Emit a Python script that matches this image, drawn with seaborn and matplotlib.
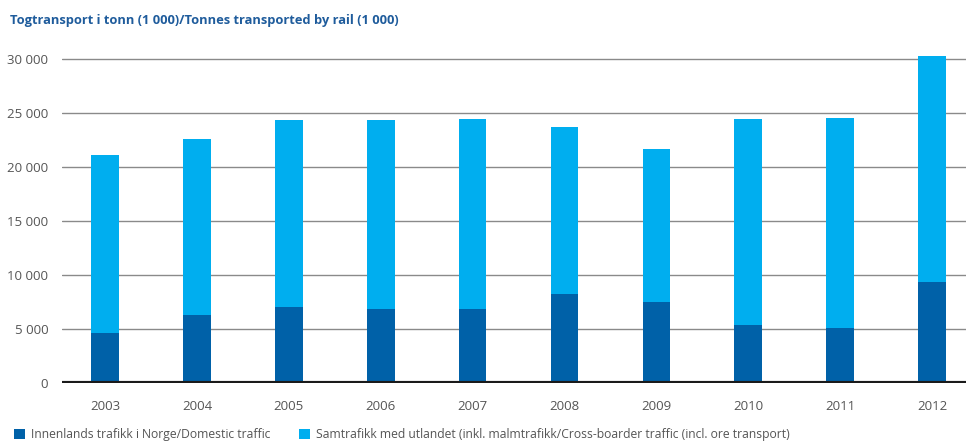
import matplotlib
matplotlib.use("Agg")
import matplotlib.pyplot as plt
import seaborn as sns
import pandas as pd
from matplotlib.patches import Patch

years = ["2003", "2004", "2005", "2006", "2007", "2008", "2009", "2010", "2011", "2012"]
domestic = [4680, 6310, 7080, 6900, 6840, 8230, 7550, 5350, 5100, 9380]
crossborder = [16490, 16340, 17270, 17450, 17640, 15470, 14110, 19160, 19470, 20950]
yticks = [0, 5000, 10000, 15000, 20000, 25000, 30000]
ytick_labels = ["0", "5 000", "10 000", "15 000", "20 000", "25 000", "30 000"]
title = "Togtransport i tonn (1 000)/Tonnes transported by rail (1 000)"
legend_labels = ["Innenlands trafikk i Norge/Domestic traffic",
                 "Samtrafikk med utlandet (inkl. malmtrafikk/Cross-boarder traffic (incl. ore transport)"]

DARK = "#0061a8"
LIGHT = "#00aeef"
TXT = "#555555"

sns.set_theme(style="white")
plt.rcParams["font.family"] = ["Open Sans", "DejaVu Sans"]

df = pd.DataFrame({"year": years, "domestic": domestic, "cross": crossborder})
df["total"] = df["domestic"] + df["cross"]

fig = plt.figure(figsize=(9.66, 4.43), dpi=100)
ax = fig.add_axes([0.0642, 0.1354, 0.9358, 0.767])

for y in yticks[1:]:
    ax.axhline(y, color="#8a8a8a", lw=1.0, zorder=0)

sns.barplot(data=df, x="year", y="total", color=LIGHT, width=0.30, saturation=1,
            linewidth=0, ax=ax, zorder=2)
sns.barplot(data=df, x="year", y="domestic", color=DARK, width=0.30, saturation=1,
            linewidth=0, ax=ax, zorder=3)
ax.axhline(0, color="#1a1a1a", lw=3, zorder=4)

ax.set_ylim(0, 31500)
ax.set_xlim(-0.47, 9.37)
ax.set_yticks(yticks)
ax.set_yticklabels(ytick_labels)
ax.set_xlabel("")
ax.set_ylabel("")
ax.tick_params(axis="both", length=0, colors=TXT, labelsize=9.5)
ax.tick_params(axis="y", pad=10)
ax.tick_params(axis="x", pad=12)
for s in ax.spines.values():
    s.set_visible(False)

fig.text(0.0105, 0.953, title, fontsize=9.3, fontweight="bold", color="#1f5c9c",
         ha="left", va="center")

handles = [Patch(facecolor=DARK, edgecolor="none"), Patch(facecolor=LIGHT, edgecolor="none")]
fig.legend(handles, legend_labels, loc="lower left", bbox_to_anchor=(0.003, -0.02),
           ncol=2, frameon=False, fontsize=8.7, labelcolor=TXT, handlelength=0.9,
           handleheight=0.9, handletextpad=0.5, columnspacing=2.4)

fig.savefig("out.png", dpi=100)
